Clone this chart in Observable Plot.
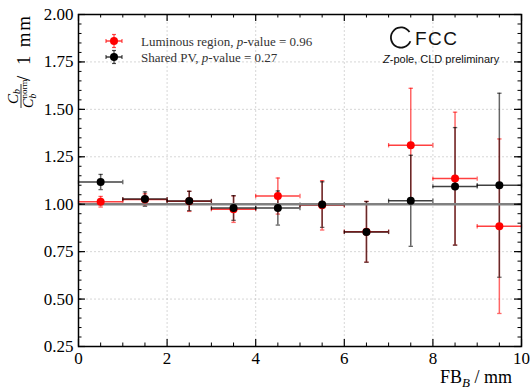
<!DOCTYPE html>
<html>
<head>
<meta charset="utf-8">
<script src="https://cdn.jsdelivr.net/npm/d3@7"></script>
<script src="https://cdn.jsdelivr.net/npm/@observablehq/plot@0.6"></script>
<style>
  html, body { margin: 0; padding: 0; background: white; }
  #chart { width: 532px; height: 390px; }
  #chart svg text.serif, #chart svg .ticklab text { font-family: "Liberation Serif", serif !important; }
</style>
</head>
<body>
<div id="chart"></div>
<script>
// ---- data ----
const binCenters = [0.5, 1.5, 2.5, 3.5, 4.5, 5.5, 6.5, 7.5, 8.5, 9.5];
const binLow     = [0, 1, 2, 3, 4, 5, 6, 7, 8, 9];
const binHigh    = [1, 2, 3, 4, 5, 6, 7, 8, 9, 10];
const lumValue   = [1.013, 1.025, 1.015, 0.974, 1.043, 0.994, 0.855, 1.311, 1.135, 0.884];
const lumErr     = [0.028, 0.030, 0.053, 0.070, 0.095, 0.130, 0.160, 0.300, 0.350, 0.460];
const pvValue    = [1.117, 1.027, 1.017, 0.980, 0.980, 0.998, 0.854, 1.018, 1.094, 1.100];
const pvErr      = [0.040, 0.038, 0.051, 0.065, 0.090, 0.120, 0.160, 0.240, 0.310, 0.485];
const refLine    = [1.0];
const xMajorTicks = [0, 2, 4, 6, 8, 10];
const yMajorTicks = [0.25, 0.50, 0.75, 1.00, 1.25, 1.50, 1.75, 2.00];
const xMinorTicks = [0.5, 1, 1.5, 2.5, 3, 3.5, 4.5, 5, 5.5, 6.5, 7, 7.5, 8.5, 9, 9.5];
const yMinorTicks = d3.range(25, 201, 5).map(d => d / 100);
const lumLabel = ["Luminous region, ", "p", "-value = 0.96"];
const pvLabel  = ["Shared PV, ", "p", "-value = 0.27"];

// ---- layout ----
const W = 532, H = 390;
const mL = 78, mR = 11, mT = 14, mB = 44;
const innerW = W - mL - mR, innerH = H - mT - mB;
const SERIF = "Liberation Serif";
const SANS = "Liberation Sans";

const lumRows = binCenters.map((c, i) => ({c, lo: binLow[i], hi: binHigh[i], v: lumValue[i], e: lumErr[i]}));
const pvRows  = binCenters.map((c, i) => ({c, lo: binLow[i], hi: binHigh[i], v: pvValue[i], e: pvErr[i]}));

const hCap = {draw(ctx, size) { const h = Math.sqrt(size / Math.PI); ctx.moveTo(-h, 0); ctx.lineTo(h, 0); }};
const vCap = {draw(ctx, size) { const h = Math.sqrt(size / Math.PI); ctx.moveTo(0, -h); ctx.lineTo(0, h); }};

function errMarks(rows, color, opacity) {
  return [
    Plot.ruleX(rows, {x: "c", y1: d => d.v - d.e, y2: d => d.v + d.e, stroke: color, strokeOpacity: opacity, strokeWidth: 1.5}),
    Plot.ruleY(rows, {y: "v", x1: "lo", x2: "hi", stroke: color, strokeOpacity: Math.min(1, opacity + 0.15), strokeWidth: 1.5}),
    Plot.dot(rows, {x: "c", y: d => d.v + d.e, symbol: hCap, r: 2.2, stroke: color, strokeOpacity: opacity, strokeWidth: 1.3}),
    Plot.dot(rows, {x: "c", y: d => d.v - d.e, symbol: hCap, r: 2.2, stroke: color, strokeOpacity: opacity, strokeWidth: 1.3}),
    Plot.dot(rows, {x: "lo", y: "v", symbol: vCap, r: 2.2, stroke: color, strokeOpacity: opacity, strokeWidth: 1.3}),
    Plot.dot(rows, {x: "hi", y: "v", symbol: vCap, r: 2.2, stroke: color, strokeOpacity: opacity, strokeWidth: 1.3})
  ];
}

const gridStyle = {stroke: "#b8b8b8", strokeOpacity: 0.7, strokeDasharray: "2,2", strokeWidth: 0.8};

const svg = Plot.plot({
  width: W, height: H,
  marginLeft: mL, marginRight: mR, marginTop: mT, marginBottom: mB,
  style: {fontFamily: SERIF, fontSize: "17px", background: "white", color: "black", overflow: "visible"},
  x: {domain: [0, 10]},
  y: {domain: [0.25, 2.0]},
  marks: [
    Plot.gridX(xMajorTicks, gridStyle),
    Plot.gridY(yMajorTicks, gridStyle),
    ...errMarks(lumRows, "#ff0000", 0.6),
    ...errMarks(pvRows, "#000000", 0.6),
    Plot.ruleY(refLine, {stroke: "#808080", strokeWidth: 2.5}),
    Plot.dot(lumRows, {x: "c", y: "v", r: 4, fill: "#ff0000"}),
    Plot.dot(pvRows, {x: "c", y: "v", r: 4, fill: "#000000"}),
    // inward ticks on all four sides
    Plot.tickX(xMajorTicks, {x: d => d, insetTop: innerH - 7, stroke: "black", strokeWidth: 1.2}),
    Plot.tickX(xMajorTicks, {x: d => d, insetBottom: innerH - 7, stroke: "black", strokeWidth: 1.2}),
    Plot.tickX(xMinorTicks, {x: d => d, insetTop: innerH - 3.5, stroke: "black", strokeWidth: 1}),
    Plot.tickX(xMinorTicks, {x: d => d, insetBottom: innerH - 3.5, stroke: "black", strokeWidth: 1}),
    Plot.tickY(yMajorTicks, {y: d => d, insetRight: innerW - 7, stroke: "black", strokeWidth: 1.2}),
    Plot.tickY(yMajorTicks, {y: d => d, insetLeft: innerW - 7, stroke: "black", strokeWidth: 1.2}),
    Plot.tickY(yMinorTicks, {y: d => d, insetRight: innerW - 3.5, stroke: "black", strokeWidth: 1}),
    Plot.tickY(yMinorTicks, {y: d => d, insetLeft: innerW - 3.5, stroke: "black", strokeWidth: 1}),
    Plot.axisX(xMajorTicks, {tickSize: 0, tickPadding: 5, label: null, tickFormat: d => String(d), fontSize: 17}),
    Plot.axisY(yMajorTicks, {tickSize: 0, tickPadding: 5, label: null, tickFormat: d3.format(".2f"), fontSize: 17}),
    Plot.frame({stroke: "black", strokeWidth: 1.5})
  ]
});

document.getElementById("chart").appendChild(svg);
const s = d3.select(svg);
// force serif on Plot's own tick labels
s.selectAll("text").classed("serif", true).attr("font-family", SERIF)
  .attr("font-variant", null).style("font-variant", "normal").style("font-family", SERIF);

function txt(parent, x, y, size, anchor, family) {
  return parent.append("text").attr("x", x).attr("y", y)
    .attr("text-anchor", anchor || "start").attr("fill", "black")
    .style("font-family", family || SERIF).style("font-size", size + "px");
}

// ---- x label ----
const xl = txt(s, 512, 383, 18, "end");
xl.append("tspan").text("FB");
xl.append("tspan").attr("font-style", "italic").style("font-size", "13px").attr("dy", 4).text("B");
xl.append("tspan").attr("dy", -4).text(" / mm");

// ---- y label (rotated) ----
const yl = s.append("g").attr("transform", "translate(21,108) rotate(-90)");
yl.append("line").attr("x1", 0).attr("x2", 24).attr("y1", 0).attr("y2", 0).attr("stroke", "black").attr("stroke-width", 0.8);
txt(yl, 4, -3.5, 15).attr("font-style", "italic").text("C");
txt(yl, 14, -1, 10).attr("font-style", "italic").text("b");
txt(yl, 0, 11.5, 14).attr("font-style", "italic").text("C");
txt(yl, 9.5, 6, 9).text("norm");
txt(yl, 9.5, 14.5, 9.5).attr("font-style", "italic").text("b");
txt(yl, 27, 9, 19).text("/");
txt(yl, 43, 9, 19).attr("textLength", 49).attr("lengthAdjust", "spacing").text("1 mm");

// ---- legend ----
function legendRow(cy, color, parts) {
  const g = s.append("g");
  const cx = 114;
  g.append("line").attr("x1", cx - 8).attr("x2", cx + 8).attr("y1", cy).attr("y2", cy).attr("stroke", color).attr("stroke-opacity", 0.75).attr("stroke-width", 1.5);
  g.append("line").attr("x1", cx).attr("x2", cx).attr("y1", cy - 6.5).attr("y2", cy + 6.5).attr("stroke", color).attr("stroke-opacity", 0.6).attr("stroke-width", 1.5);
  [[cx - 8, cy - 2, cx - 8, cy + 2], [cx + 8, cy - 2, cx + 8, cy + 2], [cx - 2, cy - 6.5, cx + 2, cy - 6.5], [cx - 2, cy + 6.5, cx + 2, cy + 6.5]]
    .forEach(([a, b, c, d]) => g.append("line").attr("x1", a).attr("y1", b).attr("x2", c).attr("y2", d).attr("stroke", color).attr("stroke-opacity", 0.7).attr("stroke-width", 1.2));
  g.append("circle").attr("cx", cx).attr("cy", cy).attr("r", 4).attr("fill", color);
  const t = txt(g, 141, cy + 4.5, 13).attr("fill", "#333");
  t.append("tspan").text(parts[0]);
  t.append("tspan").attr("font-style", "italic").text(parts[1]);
  t.append("tspan").text(parts[2]);
}
legendRow(41, "#ff0000", lumLabel);
legendRow(57, "#000000", pvLabel);

// ---- FCC logo ----
const logo = s.append("g");
const arc = d3.arc().innerRadius(9.2).outerRadius(11).startAngle(Math.PI * 0.62).endAngle(Math.PI * 2.32);
logo.append("path").attr("d", arc()).attr("transform", "translate(401,37.5)").attr("fill", "#111");
txt(logo, 415, 45, 19, "start", SANS).attr("letter-spacing", 1.5).attr("fill", "#111").text("FCC");
const zp = txt(logo, 383, 62.5, 11, "start", SANS).attr("fill", "#111");
zp.append("tspan").attr("font-style", "italic").text("Z");
zp.append("tspan").text("-pole, CLD preliminary");
</script>
</body>
</html>
